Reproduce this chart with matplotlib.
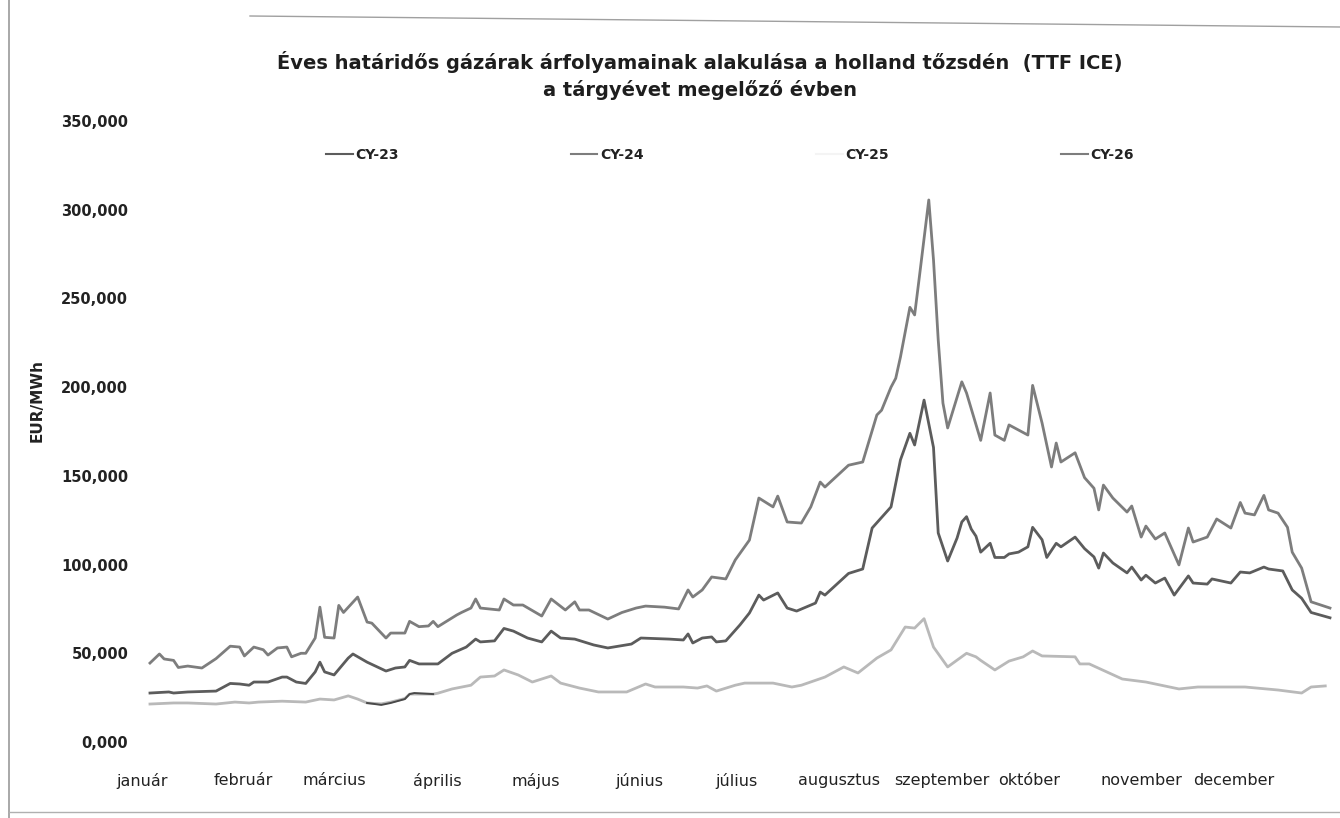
import matplotlib
matplotlib.use("Agg")
import matplotlib.pyplot as plt
from matplotlib.lines import Line2D
from matplotlib.ticker import FuncFormatter

# ---- data (trading-day index, EUR/MWh) ----
cy23_day = [0, 2, 3, 5, 6, 8, 11, 14, 17, 19, 20, 22, 24, 25, 27, 29, 30, 32, 33, 35, 36, 37, 39, 40, 41, 44,
            46, 47, 50, 51, 54, 55, 57, 59, 60, 61, 65, 66, 68, 69, 70, 74, 75, 77, 79, 83, 85, 88, 90, 91, 93,
            97, 100, 103, 105, 109, 112, 114, 115, 117, 119, 122, 124, 127, 129, 132, 133, 135, 138, 140, 142,
            143, 148, 151, 154, 155, 157, 158, 159, 161, 162, 163, 165, 166, 167, 168, 169, 172, 173, 176, 178,
            179, 181, 182, 186, 187, 189, 191, 192, 193, 196, 198, 200, 201, 202, 204, 207, 208, 210, 211, 213,
            215, 218, 220, 221, 224, 226, 229, 231, 232, 234, 236, 237, 239, 241, 242, 244, 246, 250]
cy23_val = [44.5, 49.6, 46.8, 46, 42, 42.8, 41.7, 47, 54, 53.5, 48.5, 53.5, 52, 49, 53, 53.5, 48, 50, 50, 58.6,
            76, 59, 58.6, 77, 73, 81.7, 67.6, 67, 58.6, 61.4, 61.4, 68, 65, 65.4, 68, 65, 71.6, 73, 75.5, 80.6,
            75.5, 74.4, 80.6, 77.2, 77.2, 71, 80.6, 74.4, 79, 74.4, 74.4, 69.3, 73, 75.5, 76.6, 76, 75, 85.7,
            81.7, 85.7, 93, 91.9, 102.6, 113.8, 137.5, 132.5, 138.6, 124, 123.4, 132.5, 146.5, 143.7, 156,
            157.8, 184.3, 187, 200, 205, 217, 245, 240.7, 262, 305.5, 271.7, 226.6, 191, 177, 203, 196.7, 170,
            196.7, 173, 170, 178.7, 173, 201, 179.8, 155, 168.5, 157.8, 163, 149, 143, 130.8, 144.8, 137.5,
            129.6, 133, 115.5, 121.7, 114.4, 117.8, 99.8, 120.6, 112.7, 115.5, 125.7, 120.6, 135, 129, 128,
            139, 130.8, 129, 121, 107, 98, 79, 75.5]

cy24_day = [0, 4, 5, 8, 14, 17, 19, 21, 22, 25, 28, 29, 31, 33, 35, 36, 37, 39, 42, 43, 46, 50, 52, 54, 55, 57,
            61, 64, 67, 69, 70, 73, 75, 77, 80, 83, 85, 87, 90, 94, 97, 102, 104, 110, 113, 114, 115, 117, 119,
            120, 122, 125, 127, 129, 130, 133, 135, 137, 141, 142, 143, 148, 151, 153, 157, 159, 161, 162, 164,
            166, 167, 169, 171, 172, 173, 174, 175, 176, 178, 179, 181, 182, 184, 186, 187, 189, 190, 192, 193,
            196, 198, 200, 201, 202, 204, 207, 208, 210, 211, 213, 215, 217, 220, 221, 224, 225, 229, 231, 233,
            236, 237, 240, 242, 244, 246, 250]
cy24_val = [27.6, 28.2, 27.6, 28.2, 28.7, 33, 32.7, 32, 33.8, 33.8, 36.6, 36.6, 33.8, 33, 39.5, 45, 39.5, 37.8,
            47.3, 49.6, 45, 40, 41.7, 42.3, 46, 44, 44, 50, 53.5, 58, 56.4, 57, 64, 62.5, 58.6, 56.4, 62.5, 58.6,
            58, 54.7, 53, 55.2, 58.6, 58, 57.5, 60.9, 55.8, 58.6, 59.2, 56.4, 57, 66, 72.7, 82.8, 80, 84, 75.5,
            73.8, 78.3, 84.5, 82.8, 95, 97.5, 120.6, 132.5, 159, 174, 167.4, 192.7, 166, 117.8, 102, 115, 124,
            127, 120, 116, 107, 112, 104, 104, 106, 107, 110, 121, 114, 104, 112, 110, 115.5, 109, 104.3, 98,
            106.5, 100.9, 95.3, 98.6, 91.3, 94, 89.6, 92.4, 82.8, 93.6, 89.6, 89, 91.9, 89.6, 95.8, 95.3, 98.6,
            97.5, 96.4, 85.7, 81, 73, 70]

cy25_day = [0, 5, 8, 14, 18, 21, 23, 28, 33, 36, 39, 42, 44, 46, 49, 51, 54, 55, 60, 61, 64, 68, 70, 73, 75, 78,
            81, 85, 87, 91, 95, 101, 105, 107, 113, 116, 118, 120, 124, 126, 132, 136, 138, 143, 147, 150, 154,
            157, 160, 162, 164, 166, 169, 173, 175, 176, 179, 182, 185, 187, 189, 196, 197, 199, 206, 211, 218,
            222, 232, 239, 244, 246, 249]
cy25_val = [21.4, 22, 22, 21.4, 22.5, 22, 22.5, 23, 22.5, 24.2, 23.7, 26, 24.2, 22, 21.5, 22.5, 24.5, 27, 27,
            27.5, 29.9, 32, 36.6, 37.2, 40.6, 37.8, 33.8, 37.2, 33.2, 30.4, 28.2, 28.2, 32.7, 31, 31, 30.4,
            31.6, 28.7, 32, 33.2, 33.2, 31, 32, 36.6, 42.3, 38.9, 47.3, 51.9, 64.8, 64.2, 69.5, 53.5, 42.3, 50,
            48, 46, 40.6, 45.6, 48, 51.3, 48.5, 48, 44, 44, 35.5, 33.8, 29.9, 31, 31, 29.3, 27.6, 31, 31.6]

cy26_day = [46, 49, 51, 54, 55, 56, 60]
cy26_val = [22, 20.9, 22, 24.2, 27, 27.6, 27]

months = ["január", "február", "március", "április", "május", "június", "július",
          "augusztus", "szeptember", "október", "november", "december"]
month_pos = [-1.7, 19.7, 39.0, 60.8, 81.8, 103.6, 124.2, 146.0, 167.8, 186.2, 210.0, 229.7]
y_ticks = [0, 50, 100, 150, 200, 250, 300, 350]

title1 = "Éves határidős gázárak árfolyamainak alakulása a holland tőzsdén  (TTF ICE)"
title2 = "a tárgyévet megelőző évben"

# ---- figure ----
W, H = 1340, 818
fig = plt.figure(figsize=(W / 100, H / 100), dpi=100)
fig.patch.set_facecolor("white")

ax_left = 131.1 / W
ax_w = (256 * 4.72) / W
ax_bottom = (H - 742) / H
ax_h = 621 / H
ax = fig.add_axes([ax_left, ax_bottom, ax_w, ax_h])

c23, c24, c25, c26 = "#7d7d7d", "#5c5c5c", "#b9b9b9", "#4a4a4a"
ax.plot(cy23_day, cy23_val, color=c23, lw=2.0, solid_joinstyle="round")
ax.plot(cy24_day, cy24_val, color=c24, lw=2.0, solid_joinstyle="round")
ax.plot(cy25_day, cy25_val, color=c25, lw=2.0, solid_joinstyle="round")
ax.plot(cy26_day, cy26_val, color=c26, lw=1.4)

ax.set_xlim(-4, 252)
ax.set_ylim(0, 350)
for s in ax.spines.values():
    s.set_visible(False)

ax.set_yticks(y_ticks)
ax.yaxis.set_major_formatter(FuncFormatter(lambda v, p: f"{int(v)},000"))
ax.tick_params(axis="y", length=0, pad=2, labelsize=10.5, colors="#222222")
for t in ax.get_yticklabels():
    t.set_fontweight("bold")

ax.set_xticks(month_pos)
ax.set_xticklabels(months, fontsize=11.5, color="#222222")
ax.tick_params(axis="x", length=0, pad=22)

fig.text(37 / W, 1 - 400 / H, "EUR/MWh", rotation=90, ha="center", va="center",
         fontsize=11, fontweight="bold", color="#222222")

fig.text(700 / W, 1 - 62 / H, title1, ha="center", va="center", fontsize=14,
         fontweight="bold", color="#1e1e1e")
fig.text(700 / W, 1 - 90 / H, title2, ha="center", va="center", fontsize=14,
         fontweight="bold", color="#1e1e1e")

handles = [Line2D([], [], color=c24, lw=1.5), Line2D([], [], color=c23, lw=1.5),
           Line2D([], [], color="#f4f4f4", lw=1.5), Line2D([], [], color=c23, lw=1.5)]
leg = fig.legend(handles, ["CY-23", "CY-24", "CY-25", "CY-26"], loc="center",
                 bbox_to_anchor=(730 / W, 1 - 155 / H), ncol=4, frameon=False,
                 fontsize=10, handlelength=1.9, handletextpad=0.2, columnspacing=12.4)
for t in leg.get_texts():
    t.set_fontweight("bold")
    t.set_color("#222222")

# scanned page frame
fig.add_artist(Line2D([9 / W, 9 / W], [0, 1], transform=fig.transFigure, color="#9a9a9a", lw=1.2))
fig.add_artist(Line2D([9 / W, 1], [1 - 812 / H, 1 - 812 / H], transform=fig.transFigure,
                      color="#b0b0b0", lw=1.0))
fig.add_artist(Line2D([250 / W, 1], [1 - 16 / H, 1 - 27 / H], transform=fig.transFigure,
                      color="#a0a0a0", lw=1.0))

fig.savefig("out.png", dpi=100)
